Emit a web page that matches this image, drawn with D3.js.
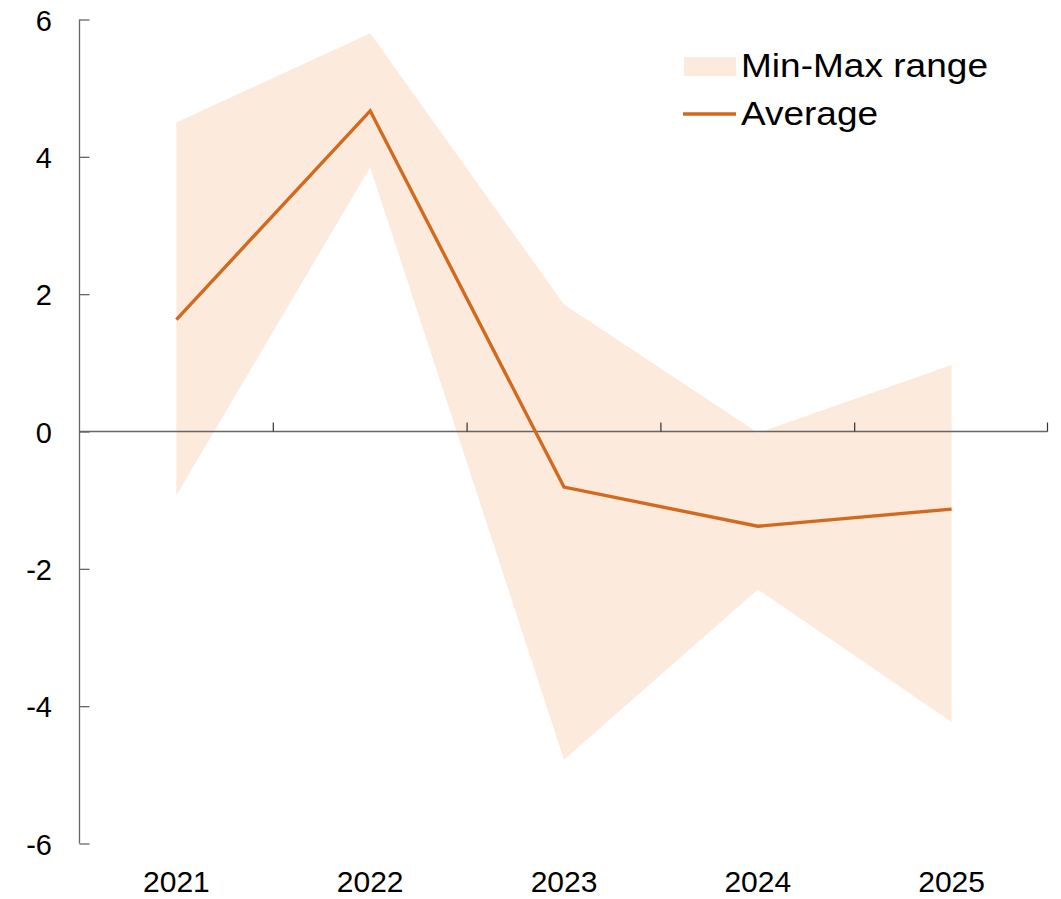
<!DOCTYPE html>
<html><head><meta charset="utf-8">
<script src="https://cdn.jsdelivr.net/npm/d3@7"></script>
<style>body{margin:0;background:#fff;}svg{display:block;}text{font-family:"Liberation Sans",Arial,sans-serif;fill:#000;}</style>
</head><body>
<svg id="chart" width="1061" height="899"></svg>
<script>
const years = ["2021","2022","2023","2024","2025"];
const maxValues = [4.5, 5.8, 1.85, -0.02, 0.97];
const minValues = [-0.93, 3.85, -4.78, -2.3, -4.23];
const avgValues = [1.63, 4.67, -0.81, -1.38, -1.13];
const yTicks = [-6, -4, -2, 0, 2, 4, 6];
const legendLabels = ["Min-Max range", "Average"];

const fillColor = "#FCEADD";
const lineColor = "#D2691E";

const svg = d3.select("#chart");
const x = d3.scaleBand().domain(years).range([79.5, 1048.5]);
const y = d3.scaleLinear().domain([-6, 6]).range([843.5, 19.5]);
const cx = d => x(d) + x.bandwidth() / 2;

const data = years.map((yr, i) => ({yr, min: minValues[i], max: maxValues[i], avg: avgValues[i]}));

svg.append("path").datum(data)
  .attr("fill", fillColor)
  .attr("d", d3.area().x(d => cx(d.yr)).y0(d => y(d.min)).y1(d => y(d.max)));

// y axis
const yAxis = svg.append("g").attr("transform", "translate(79.5,0)")
  .call(d3.axisRight(y).tickValues(yTicks).tickSize(10).tickFormat(""));
yAxis.select(".domain").attr("stroke", "#666").attr("stroke-width", 1.3).attr("d", `M0,${y(6)}V${y(-6)}`);
yAxis.selectAll(".tick line").attr("stroke", "#666").attr("stroke-width", 1.3);
svg.selectAll(".ylab").data(yTicks).enter().append("text")
  .attr("x", 52).attr("y", d => y(d) + 11)
  .attr("text-anchor", "end").attr("font-size", 29).text(d => d);

// x axis at zero
const xAxis = svg.append("g").attr("transform", `translate(0,${y(0)})`)
  .call(d3.axisTop(x).tickSize(0).tickFormat(""));
xAxis.select(".domain").attr("stroke", "#666").attr("stroke-width", 1.3).attr("d", `M${x.range()[0]},0H${x.range()[1]-1}`);
const bounds = years.slice(1).map(d => x(d)).concat([x.range()[1] - 1]);
svg.selectAll(".xtick").data(bounds).enter().append("line")
  .attr("x1", d => d).attr("x2", d => d)
  .attr("y1", y(0)).attr("y2", y(0) - 9)
  .attr("stroke", "#333").attr("stroke-width", 1.2);
svg.selectAll(".xlab").data(years).enter().append("text")
  .attr("x", d => cx(d)).attr("y", 892)
  .attr("text-anchor", "middle").attr("font-size", 30).text(d => d);

// average line
svg.append("path").datum(data)
  .attr("fill", "none").attr("stroke", lineColor).attr("stroke-width", 3.4)
  .attr("d", d3.line().x(d => cx(d.yr)).y(d => y(d.avg)));

// legend
svg.append("rect").attr("x", 684).attr("y", 57).attr("width", 52).attr("height", 19).attr("fill", fillColor);
svg.append("line").attr("x1", 683).attr("x2", 736).attr("y1", 114).attr("y2", 114)
  .attr("stroke", lineColor).attr("stroke-width", 3.4);
svg.append("text").attr("x", 741).attr("y", 77).attr("font-size", 33)
  .attr("textLength", 247).attr("lengthAdjust", "spacingAndGlyphs").text(legendLabels[0]);
svg.append("text").attr("x", 741).attr("y", 125).attr("font-size", 33)
  .attr("textLength", 137).attr("lengthAdjust", "spacingAndGlyphs").text(legendLabels[1]);
</script>
</body></html>
